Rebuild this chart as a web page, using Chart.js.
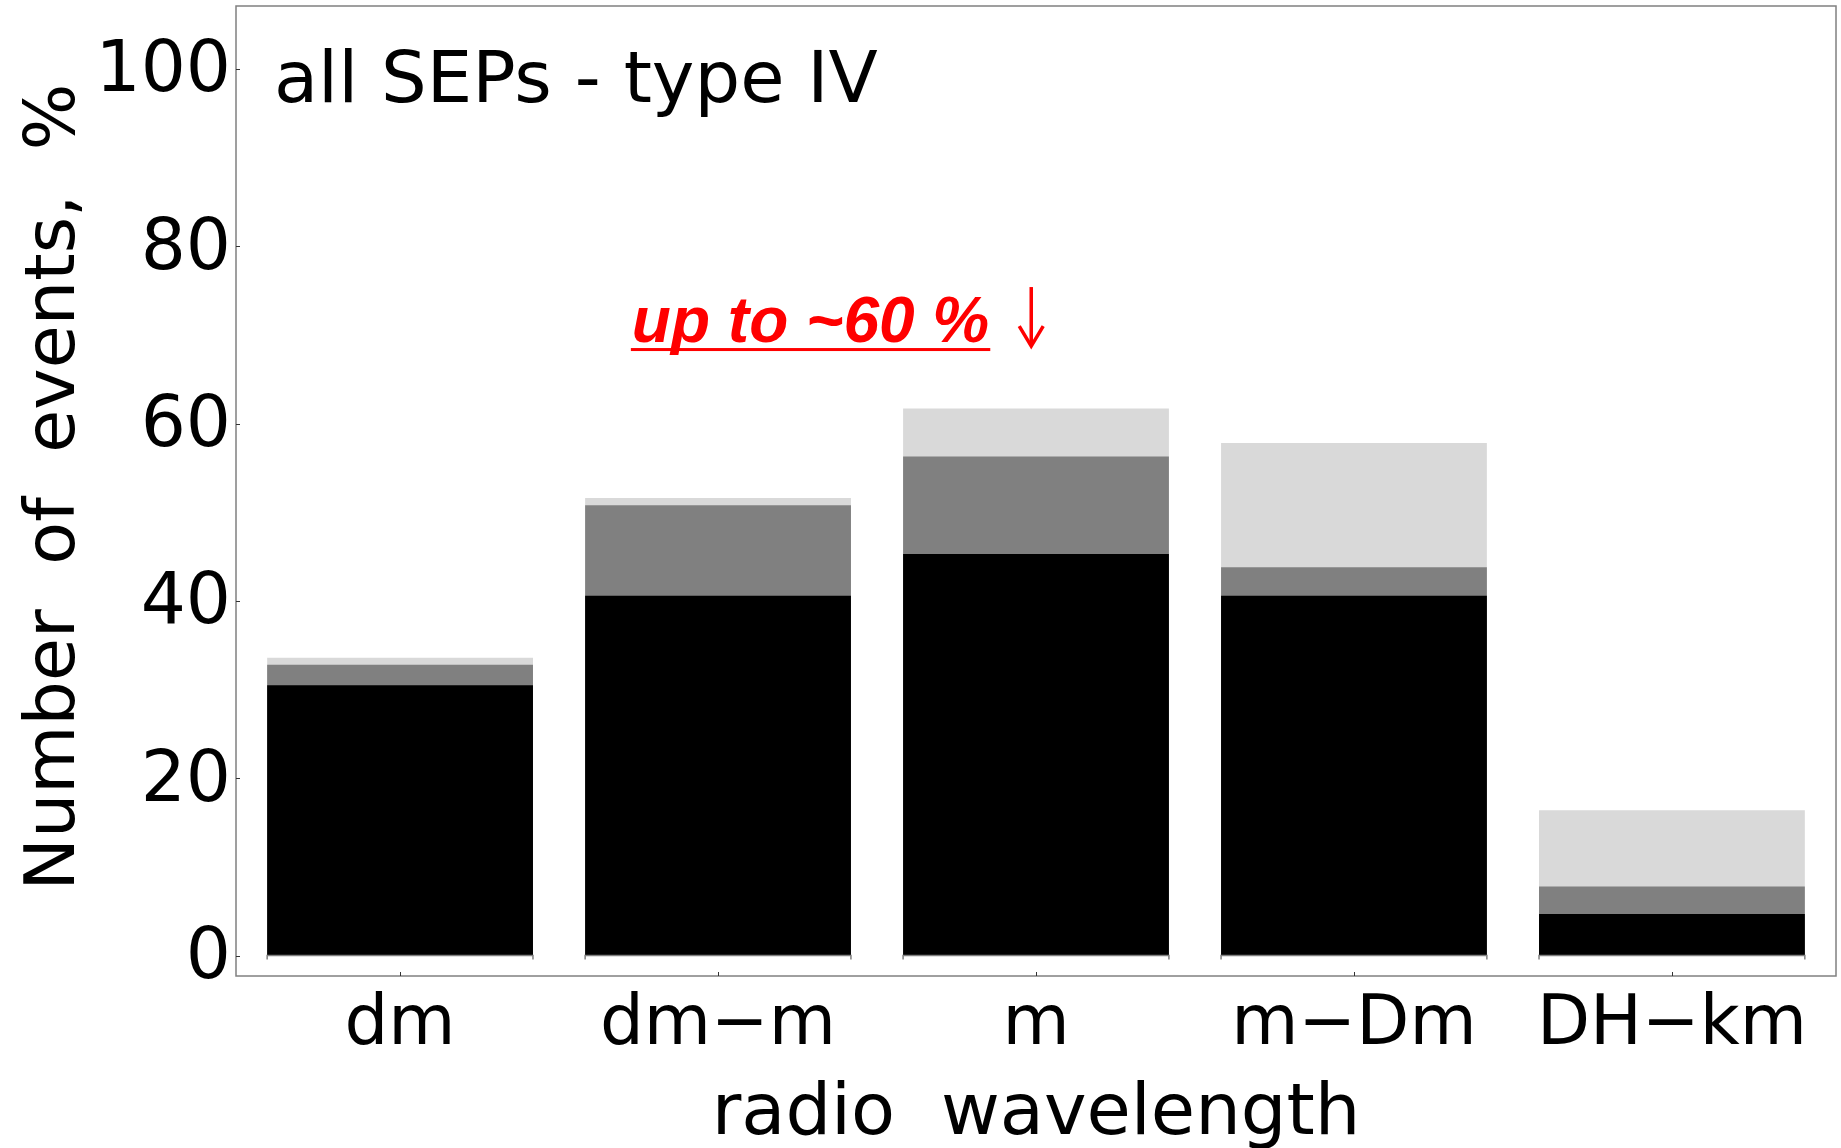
<!DOCTYPE html>
<html><head><meta charset="utf-8">
<style>html,body{margin:0;padding:0;background:#fff;overflow:hidden}#wrap{width:1841px;height:1148px}</style>
<script src="https://cdn.jsdelivr.net/npm/chart.js@4.4.0/dist/chart.umd.min.js"></script>
</head><body><div id="wrap"><canvas id="c" width="1841" height="1148"></canvas></div>
<script>
// ---- data ----
const categories = ['dm', 'dm\u2212m', 'm', 'm\u2212Dm', 'DH\u2212km'];
const lightTops = [33.6, 51.6, 61.7, 57.8, 16.4];   // light grey bar tops
const greyTops  = [32.8, 50.8, 56.3, 43.8, 7.8];    // grey bar tops
const blackTops = [30.5, 40.6, 45.3, 40.6, 4.7];    // black bar tops
const yTicks = [0, 20, 40, 60, 80, 100];
const yRange = [-2.3, 107.1];
const xRange = [-0.516, 4.516];
const titleText = 'all SEPs - type IV';
const noteText = 'up to ~60 %';
const xTitle = 'radio  wavelength';
const yTitle = 'Number  of  events,  %';

const FONT = 'DejaVu Sans';
Chart.defaults.font.family = FONT;
Chart.defaults.color = '#000';

const pts = arr => arr.map((v, i) => ({x: i, y: v}));
const noPad = s => { s.paddingTop = 0; s.paddingBottom = 0; s.paddingLeft = 0; s.paddingRight = 0; };

const decor = {
  id: 'decor',
  afterDatasetsDraw(chart) {
    const {ctx, scales: {y}} = chart;
    const y0 = y.getPixelForValue(0);
    ctx.save();
    ctx.strokeStyle = '#808080';
    ctx.lineWidth = 1.5;
    chart.getDatasetMeta(0).data.forEach(bar => {
      const l = bar.x - bar.width / 2, r = bar.x + bar.width / 2;
      ctx.beginPath();
      ctx.moveTo(l, y0 + 4); ctx.lineTo(l, y0); ctx.lineTo(r, y0); ctx.lineTo(r, y0 + 4);
      ctx.stroke();
    });
    ctx.restore();
  },
  afterDraw(chart) {
    const {ctx, chartArea: a, scales: {x, y}} = chart;
    ctx.save();
    // frame
    ctx.strokeStyle = '#808080';
    ctx.lineWidth = 1.5;
    ctx.strokeRect(a.left, a.top, a.right - a.left, a.bottom - a.top);
    // inward ticks
    ctx.strokeStyle = '#333';
    ctx.lineWidth = 1;
    yTicks.forEach(t => {
      const py = Math.round(y.getPixelForValue(t)) + 0.5;
      ctx.beginPath(); ctx.moveTo(a.left, py); ctx.lineTo(a.left + 4, py); ctx.stroke();
    });
    categories.forEach((c, i) => {
      const px = Math.round(x.getPixelForValue(i)) + 0.5;
      ctx.beginPath(); ctx.moveTo(px, a.bottom); ctx.lineTo(px, a.bottom - 4); ctx.stroke();
    });
    // y axis title
    ctx.fillStyle = '#000';
    ctx.save();
    ctx.translate(74, (a.top + a.bottom) / 2 - 4);
    ctx.rotate(-Math.PI / 2);
    ctx.font = '70px "' + FONT + '"';
    ctx.textAlign = 'center';
    ctx.textBaseline = 'alphabetic';
    ctx.fillText(yTitle, 0, 0);
    ctx.restore();
    // panel title
    ctx.font = '72px "' + FONT + '"';
    ctx.textBaseline = 'alphabetic';
    ctx.textAlign = 'left';
    ctx.fillText(titleText, a.left + 38, a.top + 96);
    // red note
    ctx.fillStyle = '#ff0000';
    ctx.strokeStyle = '#ff0000';
    ctx.font = 'italic bold 64px "Liberation Sans"';
    const nx = x.getPixelForValue(0.729), ny = y.getPixelForValue(69.2);
    ctx.fillText(noteText, nx, ny);
    const w = ctx.measureText(noteText).width;
    ctx.fillRect(nx - 1, ny + 6, w + 2, 3);
    // arrow
    const ax = x.getPixelForValue(1.985);
    ctx.lineWidth = 3.5;
    ctx.beginPath(); ctx.moveTo(ax, ny - 55); ctx.lineTo(ax, ny + 2); ctx.stroke();
    ctx.beginPath(); ctx.moveTo(ax - 12, ny - 16); ctx.lineTo(ax, ny + 4); ctx.lineTo(ax + 12, ny - 16); ctx.stroke();
    ctx.restore();
  }
};

new Chart(document.getElementById('c'), {
  type: 'bar',
  data: {
    datasets: [
      {label: 'black', data: pts(blackTops), backgroundColor: '#000000', grouped: false},
      {label: 'grey', data: pts(greyTops), backgroundColor: '#808080', grouped: false},
      {label: 'light', data: pts(lightTops), backgroundColor: '#d9d9d9', grouped: false}
    ]
  },
  options: {
    responsive: false,
    animation: false,
    devicePixelRatio: 1,
    categoryPercentage: 1,
    barPercentage: 0.836,
    layout: {padding: {top: 6, right: 5, left: 0, bottom: 0}},
    plugins: {legend: {display: false}, tooltip: {enabled: false}},
    scales: {
      x: {
        type: 'linear',
        offset: false,
        min: xRange[0], max: xRange[1],
        grid: {display: false, drawTicks: false, offset: false},
        border: {display: false},
        afterBuildTicks: s => { s.ticks = categories.map((c, i) => ({value: i})); },
        afterFit: s => { s.height = 172; noPad(s); },
        ticks: {font: {size: 69, lineHeight: 1.2}, padding: 9, maxRotation: 0, minRotation: 0, autoSkip: false,
                callback: v => categories[v]},
        title: {display: true, text: xTitle, font: {size: 72, lineHeight: 1}, padding: {bottom: -3, top: 0}}
      },
      y: {
        min: yRange[0], max: yRange[1],
        grid: {display: false, drawTicks: false},
        border: {display: false},
        afterBuildTicks: s => { s.ticks = yTicks.map(v => ({value: v})); },
        afterFit: s => { s.width = 236; noPad(s); },
        ticks: {font: {size: 71}, padding: 5, labelOffset: 4},
        title: {display: false}
      }
    }
  },
  plugins: [decor]
});
</script></body></html>
